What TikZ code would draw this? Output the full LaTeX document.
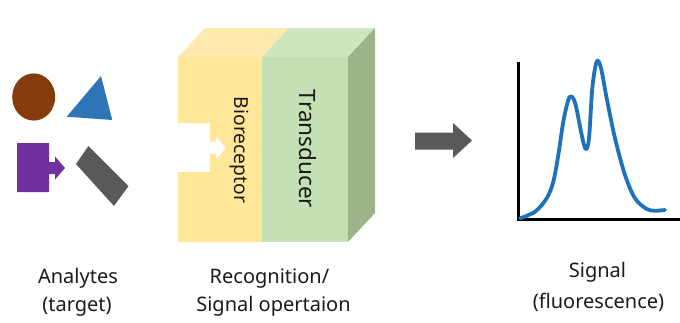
\documentclass[tikz,border=0pt]{standalone}
\usepackage{fontspec}
\setmainfont{Noto Sans}
\definecolor{brownc}{HTML}{843C0C}
\definecolor{bluec}{HTML}{2E75B6}
\definecolor{purpc}{HTML}{7030A0}
\definecolor{grayc}{HTML}{595959}
\definecolor{yelfront}{HTML}{FFE699}
\definecolor{yeltop}{HTML}{FFEAAE}
\definecolor{grnfront}{HTML}{C5E0B4}
\definecolor{grntop}{HTML}{CFE5C0}
\definecolor{grnside}{HTML}{9DB48B}
\definecolor{curvec}{HTML}{1F72B8}
\definecolor{txt}{HTML}{1A1A1A}
\begin{document}
\begin{tikzpicture}[x=1pt,y=-1pt,
  lbl/.style={font=\fontsize{20}{24}\selectfont, text=txt, inner sep=0pt, anchor=base},
  axisline/.style={line width=3.4pt, black},
  sigcurve/.style={line width=3.8pt, curvec, line cap=round, line join=round}]
\useasboundingbox (0,0) rectangle (680,322);
% analytes
\fill[brownc] (33.7,97) ellipse [x radius=21.5, y radius=23.6];
\fill[bluec] (66.7,116.7) -- (112.3,120) -- (101,76) -- cycle;
\fill[purpc] (17,143) -- (49,143) -- (49,162) -- (55,162) -- (55,156.5) -- (65,168)
  -- (55,179.5) -- (55,174) -- (49,174) -- (49,192) -- (17,192) -- cycle;
\fill[grayc] (76,164) -- (88.5,146) -- (128.5,186) -- (114,206) -- cycle;
% block
\fill[yeltop] (178,57) -- (205,28) -- (289,28) -- (262,57) -- cycle;
\fill[grntop] (262,57) -- (289,28) -- (375,28) -- (348,57) -- cycle;
\fill[grnside] (348,57) -- (375,28) -- (375,213) -- (348,242) -- cycle;
\fill[yelfront] (178,57) -- (262,57) -- (262,242) -- (178,242) -- (178,172)
  -- (210,172) -- (210,153.5) -- (216,153.5) -- (216,159.5) -- (226,148)
  -- (216,136) -- (216,141.5) -- (210,141.5) -- (210,123) -- (178,123) -- cycle;
\fill[grnfront] (262,57) rectangle (348,242);
\node[rotate=-90, font=\fontsize{19.3}{22}\selectfont, text=txt, inner sep=0pt] (bio) at (239,150) {Bioreceptor};
\node[rotate=-90, font=\fontsize{22.5}{26}\selectfont, text=txt, inner sep=0pt] (trans) at (307.5,149) {Transducer};
% arrow
\fill[grayc] (415,132.5) -- (453,132.5) -- (453,123) -- (472,140.5) -- (453,158) -- (453,149.5) -- (415,149.5) -- cycle;
% graph
\coordinate (ytop) at (518.3,61.5);
\coordinate (orig) at (518.3,219.3);
\coordinate (xend) at (680,219.3);
\draw[axisline] (ytop) -- (orig) -- (xend);
\draw[sigcurve] plot[smooth, tension=0.55] coordinates {
  (520,218.3) (535,211.7) (546.7,198.3) (553.3,181.7) (558.3,155) (563.3,121.7)
  (568.3,100) (571.7,96.5) (575.7,105) (581.7,135) (585.7,149) (589,138.3)
  (592.3,88.3) (596.7,61.5) (601,68.3) (606.7,98.3) (615,138.3) (625,175)
  (635,198.3) (646.7,209) (655,210.7) (665,210)};
% labels
\node[lbl] (an1) at (78,283) {Analytes};
\node[lbl] (an2) at (77,311.5) {(target)};
\node[lbl] (rc1) at (269.5,283) {Recognition/};
\node[lbl] (rc2) at (273.5,311.5) {Signal opertaion};
\node[lbl] (sg1) at (597.5,277) {Signal};
\node[lbl] (sg2) at (598.5,308) {(fluorescence)};
\end{tikzpicture}
\end{document}
